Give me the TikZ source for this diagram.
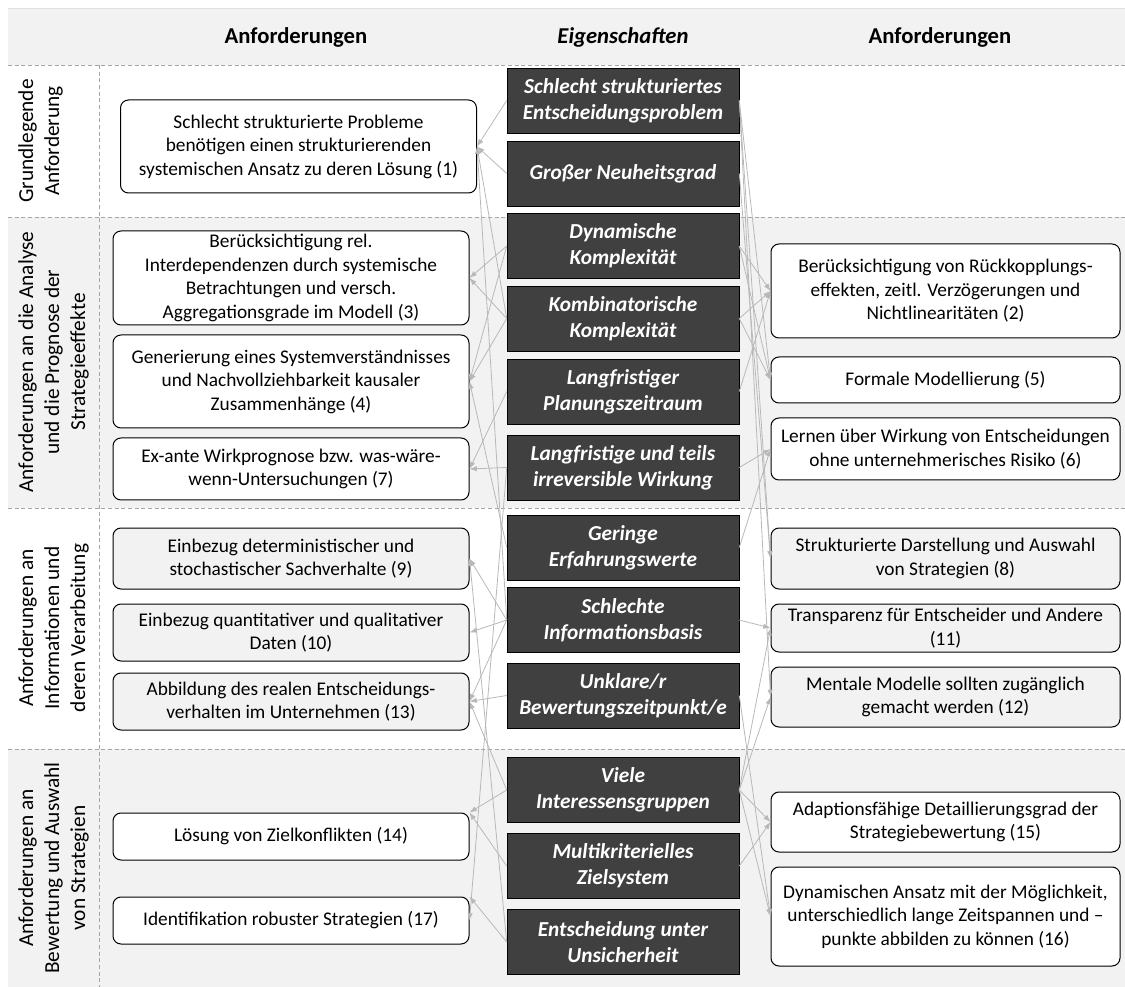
\documentclass[tikz,border=0pt]{standalone}
\usepackage{fontspec}
\setmainfont{Carlito}
\usepackage{xcolor}
\usetikzlibrary{arrows,arrows.meta,shapes}
\definecolor{propgray}{HTML}{404040}
\definecolor{bandgray}{HTML}{F2F2F2}
\definecolor{linegray}{HTML}{B8B8B8}
\definecolor{sepgray}{HTML}{A6A6A6}

\begin{document}
\begin{tikzpicture}[x=0.75pt, y=-0.75pt,
  req node/.style={draw, rounded corners=6pt, line width=0.75pt, fill=white, align=center, font=\fontsize{14.5}{17.6}\selectfont, inner sep=1pt},
  left req/.style={req node, minimum width=267pt},
  right req/.style={req node, minimum width=261.75pt},
  prop node/.style={draw=black, fill=propgray, text=white, align=center, font=\fontsize{16}{19.5}\selectfont\bfseries\itshape, minimum width=174pt, minimum height=49pt, inner sep=1pt},
  band label/.style={rotate=90, anchor=north, align=center, font=\fontsize{16}{19.5}\selectfont, inner sep=0pt},
  head/.style={font=\fontsize{17}{20}\selectfont\bfseries},
  sep line/.style={sepgray, dash pattern=on 3pt off 2pt, line width=0.6pt},
  conn/.style={-{Latex[length=5.5pt,width=4pt]}, linegray, line width=0.6pt}]
\useasboundingbox (0,0) rectangle (1125,987);
% bands
\fill[bandgray] (8,8) rectangle (1125,65);
\draw[gray!25] (8,8) -- (1125,8);
\fill[bandgray] (8,217) rectangle (1125,508);
\fill[bandgray] (8,749) rectangle (1125,987);
\draw[sep line] (8,65) -- (1125,65);
\draw[sep line] (8,217) -- (1125,217);
\draw[sep line] (8,508) -- (1125,508);
\draw[sep line] (8,749) -- (1125,749);
\draw[sep line] (99,65) -- (99,987);
% headings
\node[head] (h1) at (296,37) {Anforderungen};
\node[head, font=\fontsize{17}{20}\selectfont\bfseries\itshape] (h2) at (623,37) {Eigenschaften};
\node[head] (h3) at (940,37) {Anforderungen};
\node[band label] (b1) at (18,141) {Grundlegende\\Anforderung};
\node[band label] (b2) at (18,362) {Anforderungen an die Analyse\\und die Prognose der\\Strategieeffekte};
\node[band label] (b3) at (18,628) {Anforderungen an\\Informationen und\\deren Verarbeitung};
\node[band label] (b4) at (18,868) {Anforderungen an\\Bewertung und Auswahl\\von Strategien};
% Eigenschaften
\node[prop node] (e1) at (623,100.5) {Schlecht strukturiertes\\Entscheidungsproblem};
\node[prop node] (e2) at (623,173.5) {Großer Neuheitsgrad};
\node[prop node] (e3) at (623,246) {Dynamische\\Komplexität};
\node[prop node] (e4) at (623,318.5) {Kombinatorische\\Komplexität};
\node[prop node] (e5) at (623,391.5) {Langfristiger\\Planungszeitraum};
\node[prop node] (e6) at (623,467.5) {Langfristige und teils\\irreversible Wirkung};
\node[prop node] (e7) at (623,547.5) {Geringe\\Erfahrungswerte};
\node[prop node] (e8) at (623,620) {Schlechte\\Informationsbasis};
\node[prop node] (e9) at (623,695.5) {Unklare/r\\Bewertungszeitpunkt/e};
\node[prop node] (e10) at (623,790) {Viele\\Interessensgruppen};
\node[prop node] (e11) at (623,866) {Multikriterielles\\Zielsystem};
\node[prop node] (e12) at (623,942) {Entscheidung unter\\Unsicherheit};
% Anforderungen links
\node[left req, minimum height=69.75pt] (1) at (298.5,146.5) {Schlecht strukturierte Probleme\\benötigen einen strukturierenden\\systemischen Ansatz zu deren Lösung (1)};
\node[left req, minimum height=70.5pt] (3) at (291,278) {Berücksichtigung rel.\\Interdependenzen durch systemische\\Betrachtungen und versch.\\Aggregationsgrade im Modell (3)};
\node[left req, minimum height=69.75pt] (4) at (291,381.5) {Generierung eines Systemverständnisses\\und Nachvollziehbarkeit kausaler\\Zusammenhänge (4)};
\node[left req, minimum height=46.5pt] (7) at (291,469) {Ex-ante Wirkprognose bzw. was-wäre-\\wenn-Untersuchungen (7)};
\node[left req, fill=bandgray, minimum height=45.75pt] (9) at (291,558.5) {Einbezug deterministischer und\\stochastischer Sachverhalte (9)};
\node[left req, fill=bandgray, minimum height=42.75pt] (10) at (291,632.5) {Einbezug quantitativer und qualitativer\\Daten (10)};
\node[left req, fill=bandgray, minimum height=42.75pt] (13) at (291,701.5) {Abbildung des realen Entscheidungs-\\verhalten im Unternehmen (13)};
\node[left req, minimum height=35.25pt] (14) at (291,836.5) {Lösung von Zielkonflikten (14)};
\node[left req, minimum height=35.25pt] (17) at (291,920.5) {Identifikation robuster Strategien (17)};
% Anforderungen rechts
\node[right req, minimum height=70.5pt] (2) at (945.5,291) {Berücksichtigung von Rückkopplungs-\\effekten, zeitl. Verzögerungen und\\Nichtlinearitäten (2)};
\node[right req, minimum height=34.5pt] (5) at (945.5,380) {Formale Modellierung (5)};
\node[right req, minimum height=46.5pt] (6) at (945.5,449) {Lernen über Wirkung von Entscheidungen\\ohne unternehmerisches Risiko (6)};
\node[right req, fill=bandgray, minimum height=45.75pt] (8) at (945.5,558.5) {Strukturierte Darstellung und Auswahl\\von Strategien (8)};
\node[right req, fill=bandgray, minimum height=36pt] (11) at (945.5,628) {Transparenz für Entscheider und Andere\\(11)};
\node[right req, fill=bandgray, minimum height=45pt] (12) at (945.5,697) {Mentale Modelle sollten zugänglich\\gemacht werden (12)};
\node[right req, minimum height=45pt] (15) at (945.5,822) {Adaptionsfähige Detaillierungsgrad der\\Strategiebewertung (15)};
\node[right req, minimum height=74.25pt] (16) at (945.5,916.5) {Dynamischen Ansatz mit der Möglichkeit,\\unterschiedlich lange Zeitspannen und --\\punkte abbilden zu können (16)};
% Verbindungen
\path[conn]
(e1.west) edge (1.east)
(e2.west) edge (1.east)
(e4.west) edge (1.east)
(e8.west) edge (1.east)
(e3.west) edge (3.east)
(e4.west) edge (3.east)
(e3.west) edge (4.east)
(e4.west) edge (4.east)
(e7.west) edge (4.east)
(e6.west) edge (7.east)
(e5.west) edge (7.east)
(e8.west) edge (9.east)
(e12.west) edge (9.east)
(e8.west) edge (10.east)
(e8.west) edge (13.east)
(e9.west) edge (13.east)
(e10.west) edge (13.east)
(e10.west) edge (14.north east)
(e11.west) edge (14.north east)
(e12.west) edge (17.north east)
(e6.west) edge (17.east);
\path[conn]
(e3.east) edge (2.west)
(e4.east) edge (2.west)
(e5.east) edge (2.west)
(e1.east) edge (5.west)
(e3.east) edge (5.west)
(e4.east) edge (5.west)
(e6.east) edge (6.west)
(e7.east) edge (6.west)
(e1.east) edge (8.west)
(e2.east) edge (8.west)
(e8.east) edge (11.west)
(e10.east) edge (11.west)
(e1.east) edge (12.west)
(e10.east) edge (12.west)
(e10.east) edge (15.west)
(e11.east) edge (15.west)
(e9.east) edge (16.west)
(e10.east) edge (16.west);
\end{tikzpicture}
\end{document}
